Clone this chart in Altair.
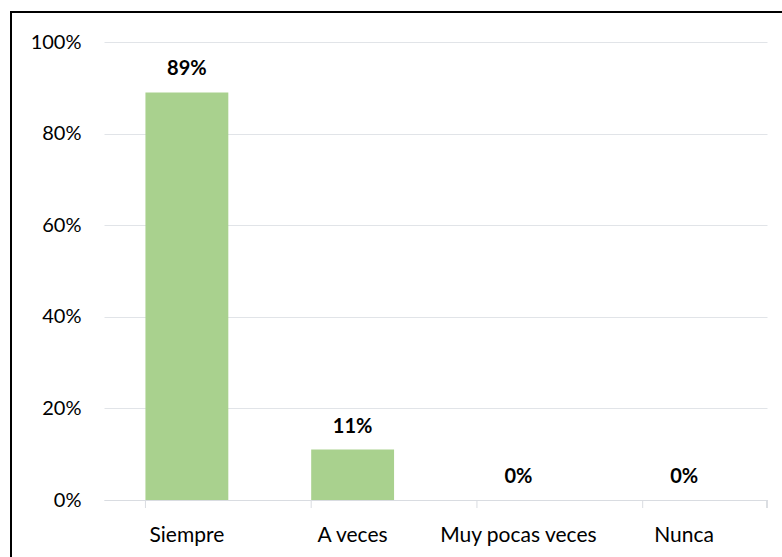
import altair as alt
import pandas as pd

categories = ["Siempre", "A veces", "Muy pocas veces", "Nunca"]
values = [0.89, 0.11, 0.0, 0.0]
labels = ["89%", "11%", "0%", "0%"]

df = pd.DataFrame({"cat": categories, "val": values, "lab": labels})

FONT = "Lato"
W, H = 663, 458
xenc = alt.X("cat:N", sort=categories,
             scale=alt.Scale(paddingInner=0.5, paddingOuter=0.25),
             axis=alt.Axis(title=None, labelAngle=0, ticks=False, domainColor="#D9DCE1",
                           labelFontSize=21, labelFont=FONT, labelColor="#000000",
                           labelPadding=24))

base = alt.Chart(df)

bars = base.mark_bar(color="#A9D18E").encode(
    x=xenc,
    y=alt.Y("val:Q", scale=alt.Scale(domain=[0, 1]),
            axis=alt.Axis(title=None, format=".0%", values=[0, 0.2, 0.4, 0.6, 0.8, 1.0],
                          domain=False, ticks=False, gridColor="#E1E4E8",
                          labelFontSize=20, labelFont=FONT, labelColor="#000000",
                          labelPadding=23)),
)

text = base.mark_text(fontWeight="bold", fontSize=20, font=FONT, baseline="alphabetic",
                      dy=-17, color="#000000").encode(
    x=alt.X("cat:N", sort=categories),
    y="val:Q",
    text="lab:N",
)

ticks = base.mark_rule(color="#D9DCE1", strokeWidth=1).encode(
    x=alt.X("cat:N", sort=categories, bandPosition=0),
    y=alt.value(H), y2=alt.value(H + 8),
)
tick_end = base.mark_rule(color="#D9DCE1", strokeWidth=1).encode(
    x=alt.value(W), y=alt.value(H), y2=alt.value(H + 8),
)

border_left = base.mark_rule(color="#000000", strokeWidth=2).encode(
    x=alt.value(-93), y=alt.value(-30), y2=alt.value(700),
)
border_top = base.mark_rule(color="#000000", strokeWidth=2).encode(
    x=alt.value(-94), x2=alt.value(900), y=alt.value(-30),
)

chart = alt.layer(bars, text, ticks, tick_end, border_left, border_top).properties(
    width=W, height=H,
    autosize=alt.AutoSizeParams(type="none"),
    padding={"left": 104, "top": 42, "right": 15, "bottom": 57},
    background="#FFFFFF",
).configure_view(stroke=None)

chart.save("out.html", embed_options={"renderer": "svg", "actions": False})
